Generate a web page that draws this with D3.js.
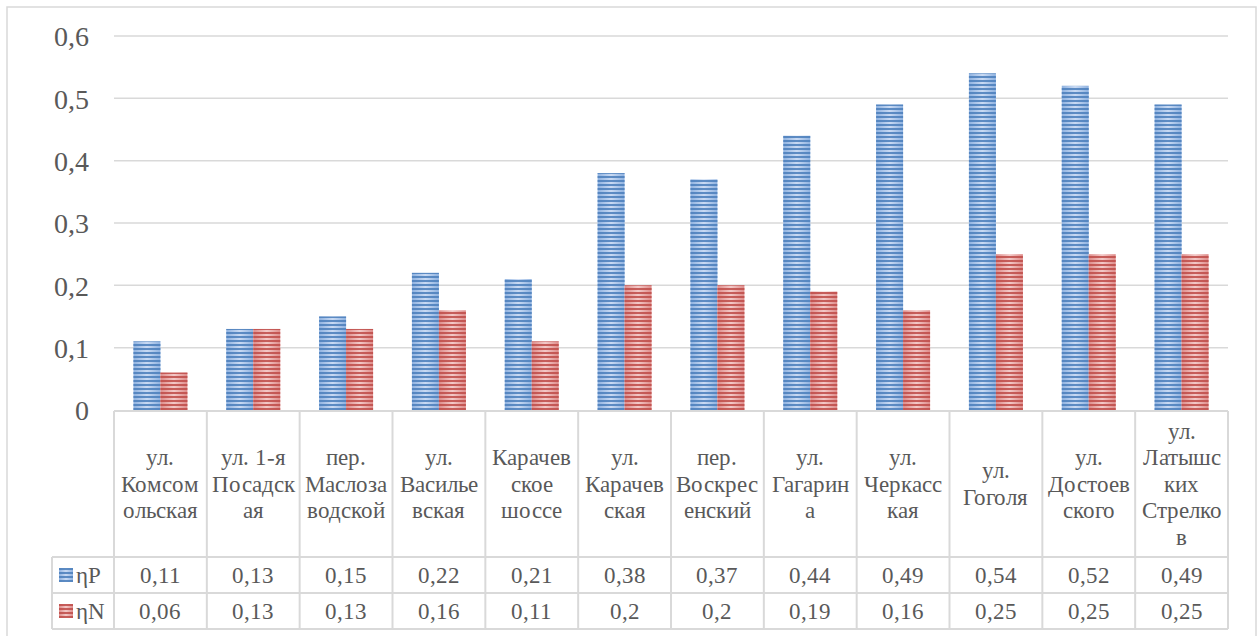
<!DOCTYPE html>
<html><head><meta charset="utf-8">
<script src="https://cdn.jsdelivr.net/npm/d3@7"></script>
<style>
@font-face{font-family:"ChartSerif";src:local("Liberation Serif"),local("LiberationSerif"),local("Liberation Serif Regular"),local("LiberationSerif-Regular");}
body{margin:0;background:#fff}svg{display:block}
svg text, svg tspan{font-family:"ChartSerif","Liberation Serif",serif !important}
</style>
</head><body>
<svg id="chart" width="1258" height="636" font-family="'Liberation Serif',serif"></svg>
<script>
const categories = ["ул. Комсомольская","ул. 1-я Посадская","пер. Маслозаводской","ул. Васильевская","Карачевское шоссе","ул. Карачевская","пер. Воскресенский","ул. Гагарина","ул. Черкасская","ул. Гоголя","ул. Достоевского","ул. Латышских Стрелков"];
const categoryLines = [["ул.","Комсом","ольская"],["ул. 1-я","Посадск","ая"],["пер.","Маслоза","водской"],["ул.","Василье","вская"],["Карачев","ское","шоссе"],["ул.","Карачев","ская"],["пер.","Воскрес","енский"],["ул.","Гагарин","а"],["ул.","Черкасс","кая"],["ул.","Гоголя"],["ул.","Достоев","ского"],["ул.","Латышс","ких","Стрелко","в"]];
const seriesNames = ["ηP","ηN"];
const etaP = [0.11,0.13,0.15,0.22,0.21,0.38,0.37,0.44,0.49,0.54,0.52,0.49];
const etaN = [0.06,0.13,0.13,0.16,0.11,0.2,0.2,0.19,0.16,0.25,0.25,0.25];
const yTicks = [0,0.1,0.2,0.3,0.4,0.5,0.6];

const series = [etaP, etaN];
const svg = d3.select("#chart");
const font = "ChartSerif, 'Liberation Serif', serif";
const textColor = "#595959";
const lineColor = "#d9d9d9";
function serif(sel){ return sel.style("font-family", font, "important"); }

const L = 114, R = 1228, T = 36, B = 410;
const headerBottom = 557, row1Bottom = 593, row2Bottom = 629, legendLeft = 52;

svg.append("rect").attr("x",7).attr("y",7).attr("width",1249).attr("height",640)
  .attr("fill","#fff").attr("stroke",lineColor).attr("stroke-width",1.5);

const defs = svg.append("defs");
const palettes = [
  {id:"b", dark:"#4a7ebb", mid:"#8fb2e0", light:"#c9daf3"},
  {id:"r", dark:"#be4b48", mid:"#de8c8a", light:"#f3c9c8"}
];
palettes.forEach(p=>{
  const g = defs.append("linearGradient").attr("id","grad"+p.id).attr("x1","0").attr("x2","1").attr("y1","0").attr("y2","0");
  g.append("stop").attr("offset","0").attr("stop-color",p.mid);
  g.append("stop").attr("offset","0.5").attr("stop-color",p.light);
  g.append("stop").attr("offset","1").attr("stop-color",p.mid);
  const pat = defs.append("pattern").attr("id","stripe"+p.id).attr("patternUnits","userSpaceOnUse")
    .attr("width",8).attr("height",4);
  pat.append("rect").attr("x",0).attr("y",0).attr("width",8).attr("height",2).attr("fill",p.dark).attr("opacity",0.85);
});

const y = d3.scaleLinear().domain([0,0.6]).range([B,T]);
const x0 = d3.scaleBand().domain(d3.range(categories.length)).range([L,R]);
const barW = 27;
const x1 = d3.scaleBand().domain(d3.range(series.length)).range([0,barW*2]);

svg.append("g").selectAll("line").data(yTicks.filter(d=>d>0)).join("line")
  .attr("x1",L).attr("x2",R).attr("y1",d=>y(d)).attr("y2",d=>y(d))
  .attr("stroke",lineColor).attr("stroke-width",1.5);

const yAxis = d3.axisLeft(y).tickValues(yTicks).tickSize(0).tickPadding(0)
  .tickFormat(d=>String(+d.toFixed(2)).replace(".",","));
const ya = svg.append("g").attr("transform",`translate(${L-25},0)`).call(yAxis);
ya.attr("font-family",font).attr("font-size",28);
ya.select(".domain").remove();
serif(ya.selectAll("text")).attr("font-size",28).attr("fill",textColor).attr("dy","0.35em");

const ids = ["b","r"];
series.forEach((vals,si)=>{
  const g = svg.append("g");
  const xs = i => x0(i) + (x0.bandwidth()-barW*2)/2 + x1(si);
  g.selectAll("rect.fill").data(vals).join("rect").attr("class","fill")
    .attr("x",(d,i)=>xs(i)).attr("width",x1.bandwidth())
    .attr("y",d=>y(d)).attr("height",d=>B-y(d)).attr("fill",`url(#grad${ids[si]})`);
  g.selectAll("rect.str").data(vals).join("rect").attr("class","str")
    .attr("x",(d,i)=>xs(i)).attr("width",x1.bandwidth())
    .attr("y",d=>y(d)).attr("height",d=>B-y(d)).attr("fill",`url(#stripe${ids[si]})`);
});

const tl = svg.append("g").attr("stroke",lineColor).attr("stroke-width",2);
tl.append("line").attr("x1",L).attr("x2",R).attr("y1",B+1).attr("y2",B+1);
[headerBottom,row1Bottom,row2Bottom].forEach(yy=>{
  tl.append("line").attr("x1",legendLeft).attr("x2",R).attr("y1",yy).attr("y2",yy);
});
d3.range(categories.length+1).forEach(i=>{
  const xx = i<categories.length ? x0(i) : R;
  tl.append("line").attr("x1",xx).attr("x2",xx).attr("y1",B+1).attr("y2",row2Bottom);
});
tl.append("line").attr("x1",legendLeft).attr("x2",legendLeft).attr("y1",headerBottom).attr("y2",row2Bottom);

const lh = 26.5;
const hc = (B+headerBottom)/2;
categoryLines.forEach((lines,i)=>{
  const cx = x0(i)+x0.bandwidth()/2;
  const t = serif(svg.append("text")).attr("x",cx).attr("y",hc - (lines.length-1)*lh/2)
    .attr("font-size",23).attr("fill",textColor).attr("text-anchor","middle");
  lines.forEach((ln,k)=>{
    t.append("tspan").attr("x",cx).attr("dy",k===0?"0.35em":lh).text(ln);
  });
});

const rowsY = [(headerBottom+row1Bottom)/2,(row1Bottom+row2Bottom)/2];
series.forEach((vals,si)=>{
  serif(svg.append("g").selectAll("text").data(vals).join("text"))
    .attr("x",(d,i)=>x0(i)+x0.bandwidth()/2).attr("y",rowsY[si]).attr("dy","0.35em")
    .attr("font-size",23).attr("fill",textColor).attr("text-anchor","middle")
    .text(d=>String(d).replace(".",","));
  svg.append("rect").attr("x",59).attr("y",rowsY[si]-7).attr("width",14).attr("height",14).attr("fill",`url(#grad${ids[si]})`);
  svg.append("rect").attr("x",59).attr("y",rowsY[si]-7).attr("width",14).attr("height",14).attr("fill",`url(#stripe${ids[si]})`);
  serif(svg.append("text")).attr("x",76).attr("y",rowsY[si]).attr("dy","0.35em")
    .attr("font-size",23).attr("fill",textColor).text(seriesNames[si]);
});
</script>
</body></html>
